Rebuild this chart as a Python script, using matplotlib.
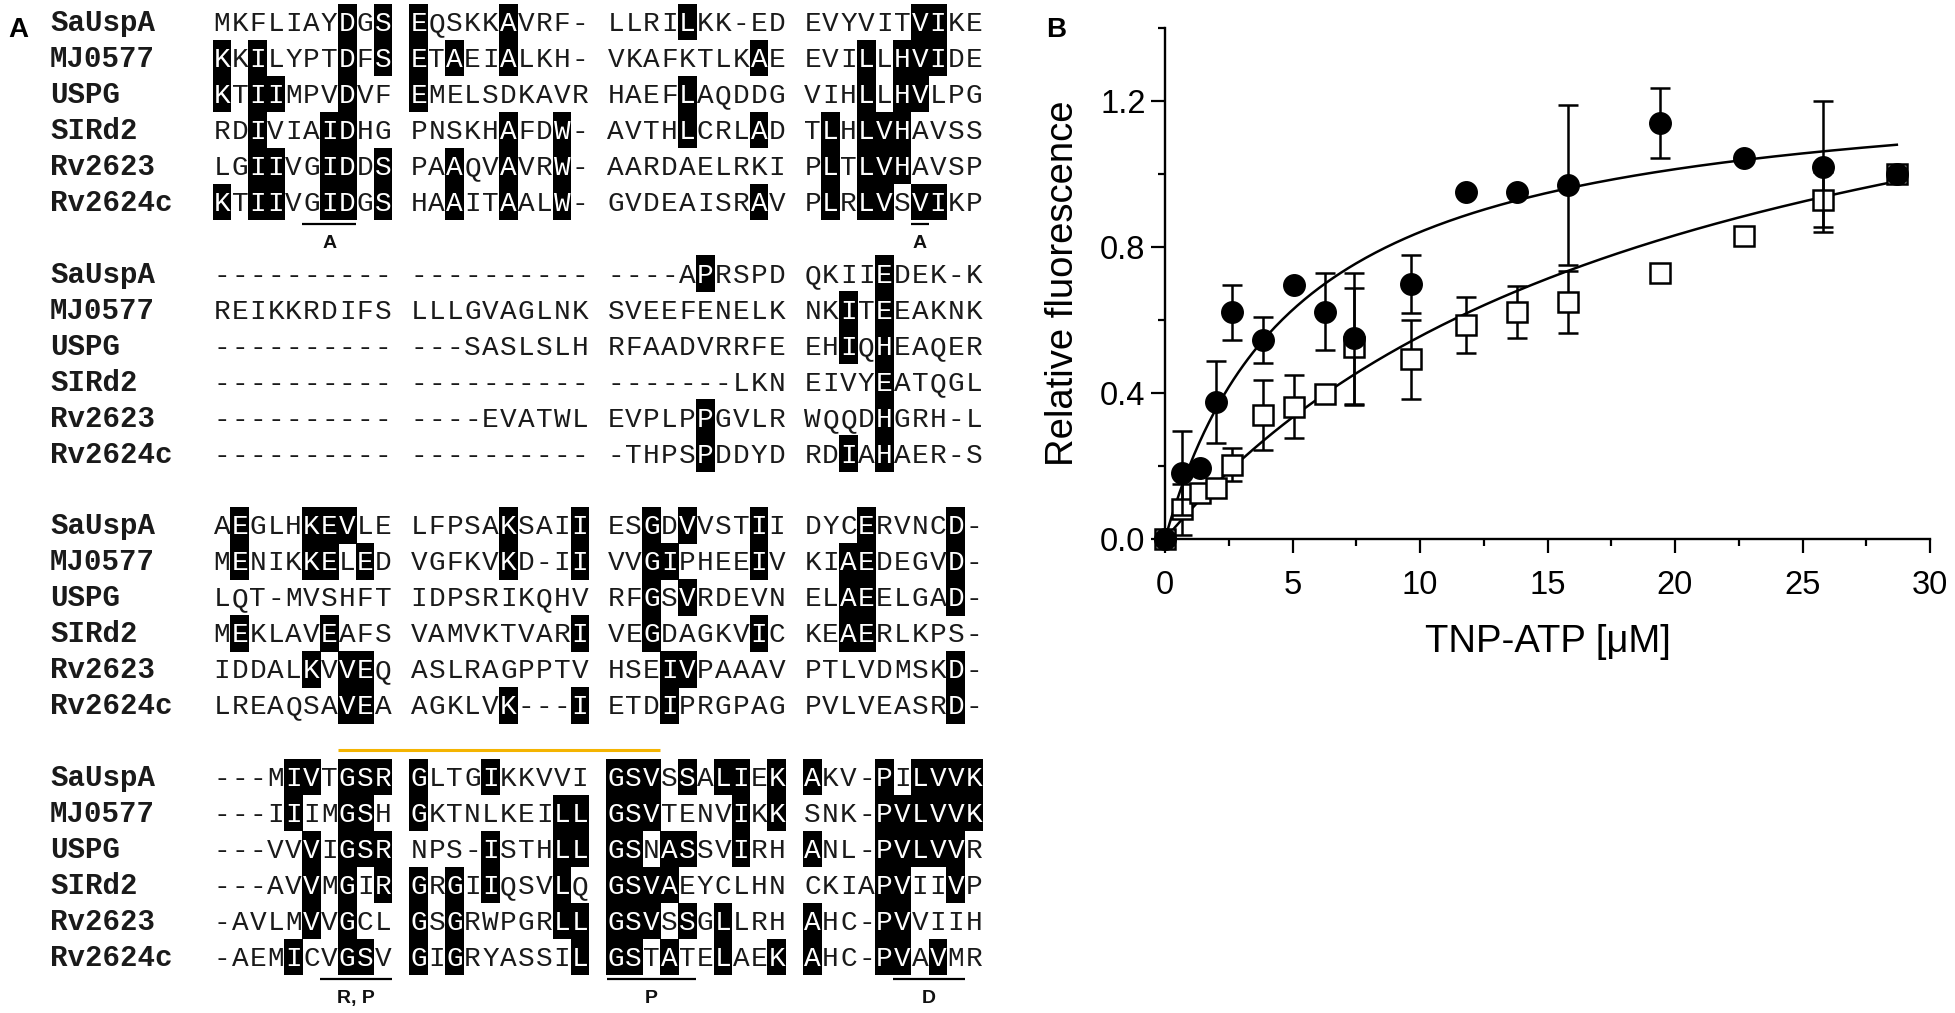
"""
Figure: (A) UspA alignment with shaded conserved residues, (B) TNP-ATP binding curves.
"""

import numpy as np
import matplotlib
matplotlib.use("Agg")
import matplotlib.pyplot as plt
from matplotlib.patches import Rectangle
from matplotlib.ticker import FixedLocator

plt.rcParams["font.family"] = ["Liberation Sans", "DejaVu Sans"]

W, H = 1955, 1013

# ── panel A data ──────────────────────────────────────────────────────────────

NAMES = ["SaUspA", "MJ0577", "USPG", "SIRd2", "Rv2623", "Rv2624c"]

SEQ_1 = [
    "MKFLIAYDGS EQSKKAVRF- LLRILKK-ED EVYVITVIKE",
    "KKILYPTDFS ETAEIALKH- VKAFKTLKAE EVILLHVIDE",
    "KTIIMPVDVF EMELSDKAVR HAEFLAQDDG VIHLLHVLPG",
    "RDIVIAIDHG PNSKHAFDW- AVTHLCRLAD TLHLVHAVSS",
    "LGIIVGIDDS PAAQVAVRW- AARDAELRKI PLTLVHAVSP",
    "KTIIVGIDGS HAAITAALW- GVDEAISRAV PLRLVSVIKP",
]
SHADE_1 = [
    ".......#.# #....#.... ....#..... ......##..",
    "#.#....#.# #.#..#.... ........#. ...#.###..",
    "#.##...#.. #......... ....#..... ...#.##...",
    "..#...##.. .....#..#. ....#...#. .#.###....",
    "..##..##.# ..#..#..#. .......... .#.###....",
    "#.##..##.# ..#..#..#. ........#. .#.##.##..",
]

SEQ_2 = [
    "---------- ---------- ----APRSPD QKIIEDEK-K",
    "REIKKRDIFS LLLGVAGLNK SVEEFENELK NKITEEAKNK",
    "---------- ---SASLSLH RFAADVRRFE EHIQHEAQER",
    "---------- ---------- -------LKN EIVYEATQGL",
    "---------- ----EVATWL EVPLPPGVLR WQQDHGRH-L",
    "---------- ---------- -THPSPDDYD RDIAHAER-S",
]
SHADE_2 = [
    ".......... .......... .....#.... ....#.....",
    ".......... .......... .......... ..#.#.....",
    ".......... .......... .......... ..#.#.....",
    ".......... .......... .......... ....#.....",
    ".......... .......... .....#.... ....#.....",
    ".......... .......... .....#.... ..#.#.....",
]

SEQ_3 = [
    "AEGLHKEVLE LFPSAKSAII ESGDVVSTII DYCERVNCD-",
    "MENIKKELED VGFKVKD-II VVGIPHEEIV KIAEDEGVD-",
    "LQT-MVSHFT IDPSRIKQHV RFGSVRDEVN ELAEELGAD-",
    "MEKLAVEAFS VAMVKTVARI VEGDAGKVIC KEAERLKPS-",
    "IDDALKVVEQ ASLRAGPPTV HSEIVPAAAV PTLVDMSKD-",
    "LREAQSAVEA AGKLVK---I ETDIPRGPAG PVLVEASRD-",
]
SHADE_3 = [
    ".#...###.. .....#...# ..#.#...#. ...#....#.",
    ".#...##.#. .....#...# ..##....#. ..##....#.",
    ".......... .......... ..#.#..... ..##....#.",
    ".#....#... .........# ..#.....#. ..##......",
    ".....#.##. .......... ...##..... ........#.",
    ".......##. .....#...# ...#...... ........#.",
]

SEQ_4 = [
    "---MIVTGSR GLTGIKKVVI GSVSSALIEK AKV-PILVVK",
    "---IIIMGSH GKTNLKEILL GSVTENVIKK SNK-PVLVVK",
    "---VVVIGSR NPS-ISTHLL GSNASSVIRH ANL-PVLVVR",
    "---AVVMGIR GRGIIQSVLQ GSVAEYCLHN CKIAPVIIVP",
    "-AVLMVVGCL GSGRWPGRLL GSVSSGLLRH AHC-PVVIIH",
    "-AEMICVGSV GIGRYASSIL GSTATELAEK AHC-PVAVMR",
]
SHADE_4 = [
    "....##.### #...#..... ###.#.##.# #...#.####",
    "....#..##. #.......## ###....#.# ....######",
    ".....#.### ....#...## ##.##..#.. #...#####.",
    ".....#.#.# #.#.#...#. ####...... ....##..#.",
    ".....#.#.. #.#.....## ###.#.#... #...##....",
    "....#..##. #.#......# ##.#..#..# #...##.#..",
]

SEQS = [SEQ_1, SEQ_2, SEQ_3, SEQ_4]
SHADES = [SHADE_1, SHADE_2, SHADE_3, SHADE_4]

# motif underlines: (block, group, first col, last col, label)
MOTIFS = [
    (0, 0, 5, 7, "A"),
    (0, 3, 6, 6, "A"),
    (3, 0, 6, 9, "R, P"),
    (3, 2, 0, 4, "P"),
    (3, 3, 5, 8, "D"),
]
# orange bar over block 4: (block, group, col) start -> end
ORANGE_FROM = (3, 0, 7)
ORANGE_TO = (3, 2, 2)

# ── panel B data ──────────────────────────────────────────────────────────────

CONC = [0, 0.66, 1.36, 1.99, 2.63, 3.85, 5.07, 6.26, 7.42, 9.66,
        11.79, 13.82, 15.8, 19.4, 22.7, 25.8, 28.7]
FILLED_Y = [0, 0.18, 0.195, 0.376, 0.621, 0.545, 0.696, 0.623, 0.55, 0.699,
            0.95, 0.95, 0.97, 1.14, 1.045, 1.02, 1.0]
FILLED_ERR = [np.nan, 0.115, np.nan, 0.113, 0.075, 0.063, np.nan, 0.106, 0.18,
              0.08, np.nan, np.nan, 0.22, 0.095, np.nan, 0.18, np.nan]
OPEN_Y = [0, 0.082, 0.127, 0.141, 0.203, 0.34, 0.363, 0.397, 0.527, 0.492,
          0.586, 0.623, 0.65, 0.73, 0.83, 0.93, 1.0]
OPEN_ERR = [np.nan, 0.07, np.nan, np.nan, 0.045, 0.096, 0.087, np.nan, 0.16,
            0.108, 0.077, 0.071, 0.085, np.nan, np.nan, 0.075, np.nan]

# one-site binding fits (Bmax, Kd)
FIT_FILLED = (1.274, 5.15)
FIT_OPEN = (1.661, 19.93)

# ── layout (pixels) ───────────────────────────────────────────────────────────

G0, CW = 213, 17.9          # first residue column, cell width
Y0, BSTEP, RSTEP = 22, 251.7, 36
NAME_X = 50
MONO = "Liberation Mono"


def cell_x(group, col):
    return G0 + (group * 11 + col) * CW


def row_y(block, row):
    return Y0 + block * BSTEP + row * RSTEP


fig = plt.figure(figsize=(W / 100, H / 100), dpi=100)
fig.patch.set_facecolor("white")

axA = fig.add_axes([0, 0, 1, 1])
axA.set_xlim(0, W)
axA.set_ylim(H, 0)
axA.axis("off")

for b, (seqs, shades) in enumerate(zip(SEQS, SHADES)):
    for r, (seq, shade) in enumerate(zip(seqs, shades)):
        yc = row_y(b, r)
        axA.text(NAME_X, yc + 9, NAMES[r], family=MONO, fontsize=21,
                 fontweight="bold", ha="left", va="baseline", color="#1a1a1a")
        for i, (ch, s) in enumerate(zip(seq, shade)):
            if ch == " ":
                continue
            g, c = divmod(i, 11)
            x0 = cell_x(g, c)
            dark = s == "#"
            if dark:
                axA.add_patch(Rectangle((x0 - 0.4, yc - RSTEP / 2 - 0.4),
                                        CW + 0.8, RSTEP + 0.8,
                                        facecolor="black", edgecolor="none"))
            axA.text(x0 + CW / 2, yc + 9, ch, family=MONO, fontsize=20,
                     ha="center", va="baseline",
                     color="white" if dark else "#1a1a1a")

for b, g, c0, c1, label in MOTIFS:
    x0, x1 = cell_x(g, c0), cell_x(g, c1) + CW
    yb = row_y(b, 5)
    axA.plot([x0, x1], [yb + 22, yb + 22], color="black", lw=1.6,
             solid_capstyle="butt")
    axA.text((x0 + x1) / 2, yb + 41, label, fontsize=14, fontweight="bold",
             ha="center", va="center", color="#111")

ob, og, oc = ORANGE_FROM
_, eg, ec = ORANGE_TO
oy = row_y(ob, 0) - 27
axA.plot([cell_x(og, oc), cell_x(eg, ec) + CW], [oy, oy], color="#F4B400",
         lw=2.2, solid_capstyle="butt")

axA.text(8, 37, "A", fontsize=20, fontweight="bold", ha="left", va="baseline")
axA.text(1046, 37, "B", fontsize=20, fontweight="bold", ha="left",
         va="baseline")

# ── panel B ───────────────────────────────────────────────────────────────────

axB = fig.add_axes([1165 / W, 1 - 539 / H, 765 / W, 511 / H])
axB.set_xlim(0, 30)
axB.set_ylim(0, 1.4)

xf = np.linspace(0, CONC[-1], 300)
for bmax, kd in (FIT_FILLED, FIT_OPEN):
    axB.plot(xf, bmax * xf / (kd + xf), color="black", lw=1.8, zorder=2)

axB.errorbar(CONC, OPEN_Y, yerr=OPEN_ERR, fmt="none", ecolor="black",
             elinewidth=1.8, capsize=7.5, capthick=1.8, zorder=3,
             clip_on=False)
axB.plot(CONC, OPEN_Y, "s", ms=14.5, mfc="white", mec="black", mew=1.8,
         zorder=4, clip_on=False)
axB.errorbar(CONC, FILLED_Y, yerr=FILLED_ERR, fmt="none", ecolor="black",
             elinewidth=1.8, capsize=7.5, capthick=1.8, zorder=5,
             clip_on=False)
axB.plot(CONC, FILLED_Y, "o", ms=15.5, color="black", zorder=6,
         clip_on=False)

for side in ("top", "right"):
    axB.spines[side].set_visible(False)
for side in ("left", "bottom"):
    axB.spines[side].set_linewidth(1.7)

axB.xaxis.set_major_locator(FixedLocator([0, 5, 10, 15, 20, 25, 30]))
axB.xaxis.set_minor_locator(FixedLocator([2.5, 7.5, 12.5, 17.5, 22.5, 27.5]))
axB.yaxis.set_major_locator(FixedLocator([0, 0.4, 0.8, 1.2]))
axB.yaxis.set_minor_locator(FixedLocator([0.2, 0.6, 1.0, 1.4]))
axB.set_yticklabels(["0.0", "0.4", "0.8", "1.2"])
axB.tick_params(which="major", length=10, width=1.6, labelsize=23.5,
                color="black")
axB.tick_params(which="minor", length=5, width=1.6)
axB.tick_params(axis="x", which="major", pad=12)
axB.tick_params(axis="y", which="major", pad=4)

axB.set_xlabel("TNP-ATP [μM]", fontsize=27.5, labelpad=17)
axB.set_ylabel("Relative fluorescence", fontsize=27.5, labelpad=14)

fig.savefig("out.png", dpi=100, facecolor="white")
